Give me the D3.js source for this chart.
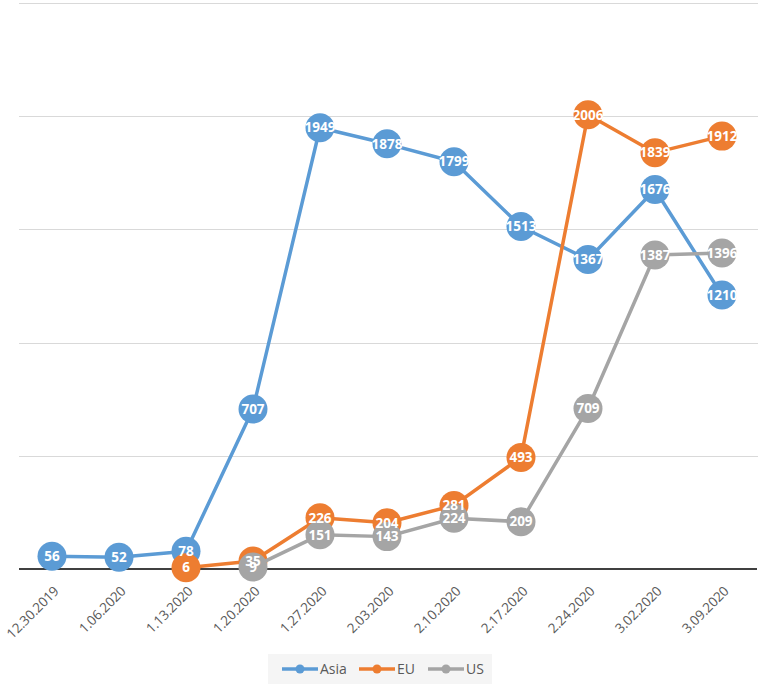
<!DOCTYPE html>
<html>
<head>
<meta charset="utf-8">
<style>
  body { margin: 0; background: #fff; }
  .grid line { stroke: #d9d9d9; stroke-width: 1; shape-rendering: crispEdges; }
  .grid path { display: none; }
  .xaxis path, .xaxis line { display: none; }
  .xaxis text { font: 13.5px "Open Sans", sans-serif; fill: #595959; letter-spacing: -0.2px; }
  .lbl { font: bold 13.5px "Open Sans", sans-serif; fill: #fff; }
  .leg text { font: 14px "Open Sans", sans-serif; fill: #595959; }
</style>
</head>
<body>
<script src="https://cdnjs.cloudflare.com/ajax/libs/d3/7.8.5/d3.min.js"></script>
<script>
// data
var dates = ["12.30.2019","1.06.2020","1.13.2020","1.20.2020","1.27.2020","2.03.2020",
             "2.10.2020","2.17.2020","2.24.2020","3.02.2020","3.09.2020"];
var asia = [56, 52, 78, 707, 1949, 1878, 1799, 1513, 1367, 1676, 1210];
var eu   = [null, null, 6, 35, 226, 204, 281, 493, 2006, 1839, 1912];
var us   = [null, null, null, 9, 151, 143, 224, 209, 709, 1387, 1396];
var yTicks = [0, 500, 1000, 1500, 2000, 2500];

var series = [
  {name: "Asia", values: asia, color: "#5b9bd5"},
  {name: "EU",   values: eu,   color: "#ed7d31"},
  {name: "US",   values: us,   color: "#a5a5a5"}
];

var W = 758, H = 686;
var svg = d3.select("body").append("svg").attr("width", W).attr("height", H);

var x = d3.scalePoint().domain(dates).range([52, 722]);
var y = d3.scaleLinear().domain([0, 2500]).range([569, 3]);

// gridlines
svg.append("g")
  .attr("class", "grid")
  .attr("transform", "translate(19,0)")
  .call(d3.axisLeft(y).tickValues(yTicks.slice(1)).tickSize(-(W - 19)).tickFormat(""));

// baseline
svg.append("line")
  .attr("x1", 19).attr("x2", 757)
  .attr("y1", y(0)).attr("y2", y(0))
  .attr("stroke", "#404040").attr("stroke-width", 2.2);

// x axis labels
svg.append("g")
  .attr("class", "xaxis")
  .attr("transform", "translate(0," + y(0) + ")")
  .call(d3.axisBottom(x).tickSize(0))
  .selectAll("text")
  .style("text-anchor", "end")
  .attr("dx", "0")
  .attr("dy", "0")
  .attr("transform", "translate(5,21) rotate(-45)");

var line = d3.line()
  .defined(function(d) { return d != null; })
  .x(function(d, i) { return x(dates[i]); })
  .y(function(d) { return y(d); });

series.forEach(function(s) {
  var g = svg.append("g");
  g.append("path")
    .datum(s.values)
    .attr("fill", "none")
    .attr("stroke", s.color)
    .attr("stroke-width", 3.5)
    .attr("stroke-linejoin", "round")
    .attr("d", line);
  g.selectAll("circle")
    .data(s.values.map(function(v, i) { return {v: v, i: i}; }).filter(function(d) { return d.v != null; }))
    .enter().append("circle")
    .attr("cx", function(d) { return x(dates[d.i]); })
    .attr("cy", function(d) { return y(d.v); })
    .attr("r", 14.5)
    .attr("fill", s.color);
});

// value labels on top
series.forEach(function(s) {
  svg.append("g").selectAll("text")
    .data(s.values.map(function(v, i) { return {v: v, i: i}; }).filter(function(d) { return d.v != null; }))
    .enter().append("text")
    .attr("class", "lbl")
    .attr("x", function(d) { return x(dates[d.i]); })
    .attr("y", function(d) { return y(d.v); })
    .attr("dy", "0.35em")
    .attr("text-anchor", "middle")
    .text(function(d) { return d.v; });
});

// legend
var leg = svg.append("g").attr("class", "leg");
leg.append("rect")
  .attr("x", 268).attr("y", 654).attr("width", 224).attr("height", 30)
  .attr("fill", "#f5f5f5");
var legX = [282, 359, 428];
series.forEach(function(s, i) {
  var lx = legX[i];
  leg.append("line")
    .attr("x1", lx).attr("x2", lx + 36)
    .attr("y1", 669).attr("y2", 669)
    .attr("stroke", s.color).attr("stroke-width", 3.5);
  leg.append("circle")
    .attr("cx", lx + 18).attr("cy", 669).attr("r", 4.5)
    .attr("fill", s.color);
  leg.append("text")
    .attr("x", lx + 38).attr("y", 669)
    .attr("dy", "0.35em")
    .text(s.name);
});
</script>
</body>
</html>
